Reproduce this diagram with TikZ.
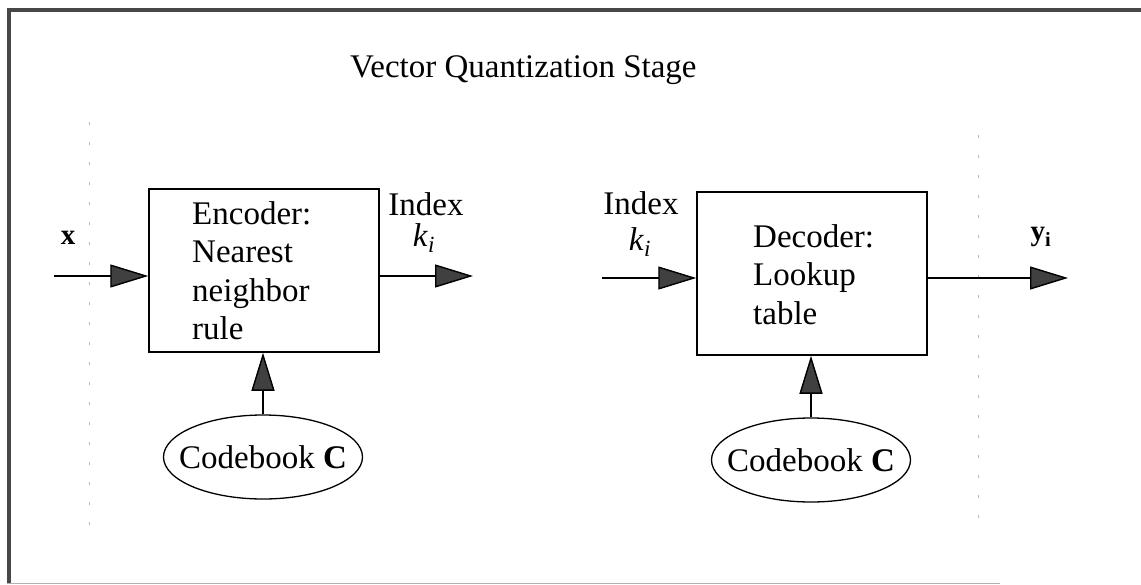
\documentclass[tikz,border=0pt]{standalone}
\usepackage{fontspec}
\setmainfont{Liberation Serif}
\usetikzlibrary{arrows.meta,shapes.geometric}

\tikzset{
  blockbox/.style={draw, line width=1.5pt, minimum width=230pt, minimum height=163pt, inner sep=0pt},
  blocktext/.style={anchor=west, inner sep=0pt, align=left, font=\fontsize{33}{38.5}\selectfont},
  codebook/.style={draw, ellipse, line width=1.3pt, minimum width=199pt, minimum height=84pt, inner xsep=-16pt, inner ysep=0pt, font=\fontsize{33}{38}\selectfont},
  lbl/.style={inner sep=0pt, font=\fontsize{33}{38}\selectfont},
  sig/.style={inner sep=0pt, font=\fontsize{29}{32}\selectfont},
  flow/.style={line width=1.4pt, -{Triangle[length=38pt, width=23pt, fill=black!75]}},
  guide/.style={gray!55, line width=0.9pt, dash pattern=on 3pt off 17pt}
}

\begin{document}
\begin{tikzpicture}[x=1pt, y=-1pt]
  \useasboundingbox (0,0) rectangle (1141,584);

  % outer frame: heavy left and top edges, faint bottom edge
  \draw[black!72, line width=4.5pt] (9,584) -- (9,10) -- (1141,10);
  \draw[gray!60, line width=0.8pt] (7,583) -- (1000,583);

  % faint vertical guides
  \draw[guide] (89,122) -- (89,530);
  \draw[guide] (978,135) -- (978,535);

  % title
  \node[lbl, anchor=base west] (title) at (350,77) {Vector Quantization Stage};

  % encoder
  \node[blockbox] (enc) at (264,270.5) {};
  \node[blocktext] (enctext) at (192,270.5) {Encoder:\\Nearest\\neighbor\\rule};
  \node[codebook] (cb1) at (263,457) {Codebook \textbf{C}};

  % decoder
  \node[blockbox] (dec) at (812,273.5) {};
  \node[blocktext] (dectext) at (753,274.5) {Decoder:\\Lookup\\table};
  \node[codebook] (cb2) at (811,460) {Codebook \textbf{C}};

  % signal labels
  \node[sig] (xlab) at (68,238) {\textbf{x}};
  \node[lbl] (idx1) at (426,204) {Index};
  \node[lbl] (k1) at (424,238) {\textit{k}\textsubscript{\textit{i}}};
  \node[lbl] (idx2) at (641,203) {Index};
  \node[lbl] (k2) at (640,242) {\textit{k}\textsubscript{\textit{i}}};
  \node[sig] (ylab) at (1041,237) {\textbf{y}\textsubscript{\textbf{i}}};

  % free ends of the signal lines
  \coordinate (xin) at (54,276);
  \coordinate (kout) at (473,276);
  \coordinate (kin) at (602,278);
  \coordinate (yout) at (1068,278);

  % connectors
  \draw[flow] (xin) -- (xin -| enc.west);
  \draw[flow] (enc.east |- kout) -- (kout);
  \draw[flow] (kin) -- (kin -| dec.west);
  \draw[flow] (dec.east |- yout) -- (yout);
  \draw[flow] (cb1.north) -- (cb1.north |- enc.south);
  \draw[flow] (cb2.north) -- (cb2.north |- dec.south);
\end{tikzpicture}
\end{document}
